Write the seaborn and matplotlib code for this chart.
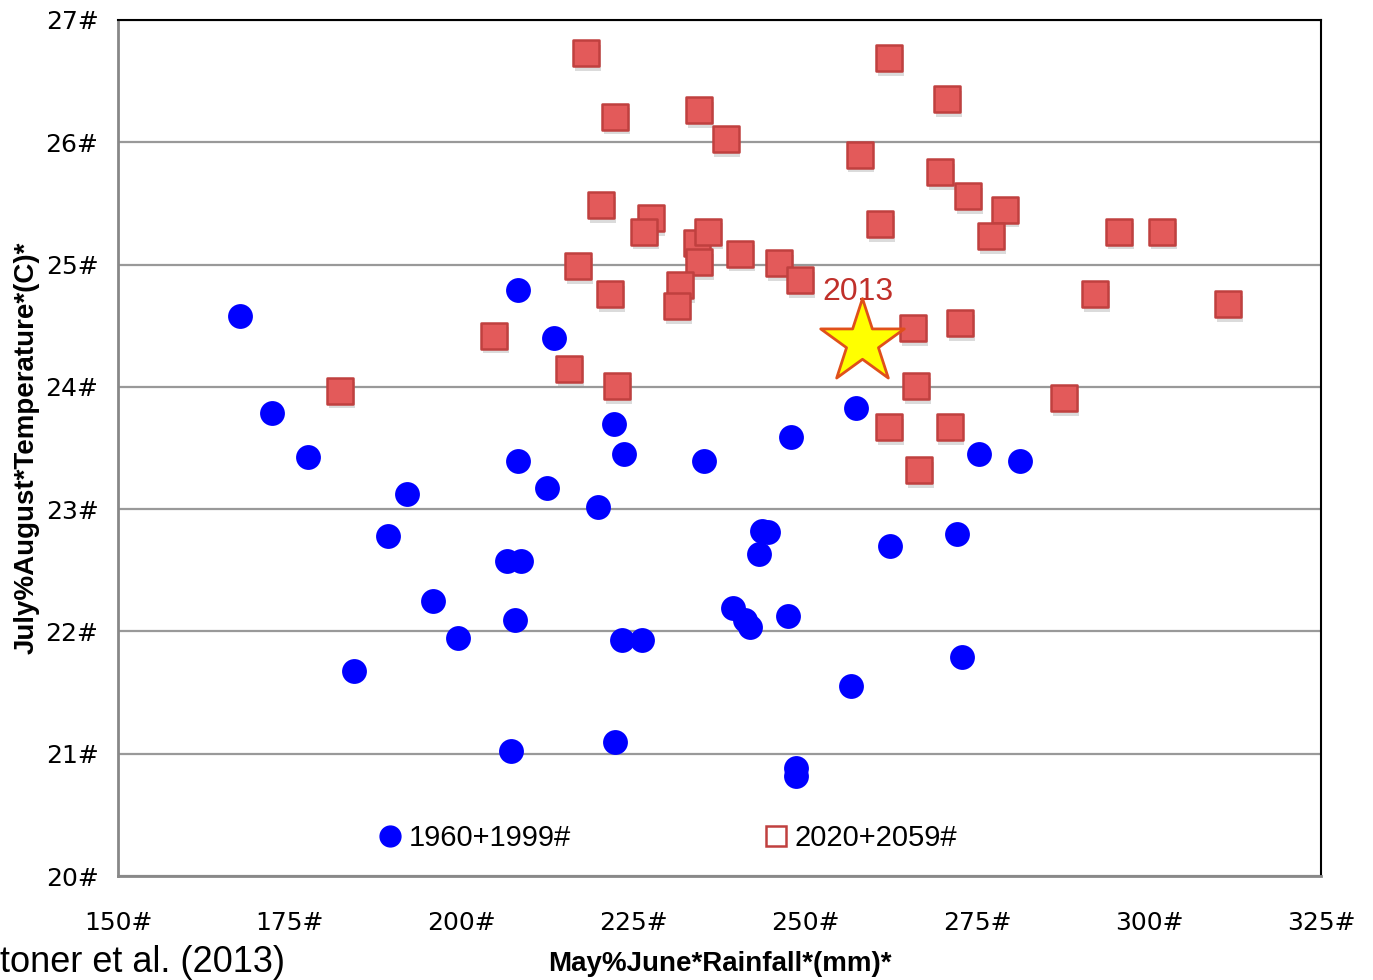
import matplotlib
matplotlib.use("Agg")
from matplotlib import pyplot as plt
from matplotlib.lines import Line2D
import seaborn as sns
import pandas as pd

# 1960-1999 observations (rainfall mm, temperature C)
past_rain = [167.7, 172.4, 177.6, 192.0, 189.3, 195.8, 199.5, 184.3, 208.2, 213.4,
             208.2, 212.4, 219.8, 206.6, 208.6, 207.8, 207.2, 222.2, 223.6, 223.3,
             226.2, 222.3, 235.2, 239.4, 241.2, 241.9, 243.7, 244.6, 243.3, 247.9,
             247.5, 248.6, 248.6, 256.6, 257.4, 262.3, 272.1, 272.8, 275.3, 281.2]
past_temp = [24.58, 23.79, 23.43, 23.12, 22.78, 22.25, 21.95, 21.68, 24.79, 24.40,
             23.39, 23.17, 23.02, 22.58, 22.58, 22.09, 21.02, 23.70, 23.45, 21.93,
             21.93, 21.10, 23.39, 22.19, 22.09, 22.04, 22.82, 22.81, 22.63, 23.59,
             22.13, 20.88, 20.82, 21.55, 23.83, 22.70, 22.80, 21.79, 23.45, 23.39]

# 2020-2059 projections
future_rain = [218.1, 222.3, 234.5, 238.4, 262.2, 270.6, 257.9, 269.6, 273.7, 279.0,
               277.0, 260.9, 220.3, 227.5, 226.5, 234.2, 235.9, 234.5, 240.5, 246.2,
               249.2, 216.9, 221.6, 231.8, 231.3, 204.7, 215.6, 222.6, 182.3, 295.6,
               301.9, 292.1, 311.5, 287.6, 265.7, 272.5, 266.1, 262.2, 271.0, 266.5]
future_temp = [26.73, 26.21, 26.26, 26.03, 26.69, 26.35, 25.90, 25.76, 25.56, 25.45,
               25.23, 25.33, 25.49, 25.38, 25.27, 25.18, 25.27, 25.02, 25.09, 25.01,
               24.87, 24.99, 24.76, 24.83, 24.66, 24.42, 24.15, 24.01, 23.97, 25.27,
               25.27, 24.76, 24.68, 23.91, 24.48, 24.52, 24.01, 23.67, 23.67, 23.32]

year2013_rain = [258.2]
year2013_temp = [24.37]

x_ticks = [150, 175, 200, 225, 250, 275, 300, 325]
y_ticks = [20, 21, 22, 23, 24, 25, 26, 27]

past = pd.DataFrame({"rain": past_rain, "temp": past_temp})
future = pd.DataFrame({"rain": future_rain, "temp": future_temp})
obs2013 = pd.DataFrame({"rain": year2013_rain, "temp": year2013_temp})

sns.set_style("white")
plt.rcParams["font.family"] = ["DejaVu Sans"]
plt.rcParams["text.color"] = "black"

fig = plt.figure(figsize=(13.73, 9.80), dpi=100)
ax = fig.add_axes([0.0859, 0.1061, 0.8762, 0.8735])

# soft drop shadow under the squares
shadow = future.copy()
shadow["rain"] = shadow["rain"] + 0.25
shadow["temp"] = shadow["temp"] - 0.04
sns.scatterplot(data=shadow, x="rain", y="temp", marker="s", s=360,
                color="#999999", alpha=0.35, linewidth=0, ax=ax, zorder=2)

sns.scatterplot(data=past, x="rain", y="temp", marker="o", s=320,
                color="#0000ff", edgecolor="#0000ff", linewidth=0, ax=ax, zorder=3)
sns.scatterplot(data=future, x="rain", y="temp", marker="s", s=340,
                color="#e35a5a", edgecolor="#c0403f", linewidth=1.8, ax=ax, zorder=4)
sns.scatterplot(data=obs2013, x="rain", y="temp", marker="*", s=4000,
                color="#ffff00", edgecolor="#e0501a", linewidth=2, ax=ax, zorder=5)
ax.text(year2013_rain[0] - 0.5, year2013_temp[0] + 0.28, "2013", color="#c0302a",
        fontsize=23, ha="center", va="bottom", family=["Liberation Sans", "DejaVu Sans"])

ax.set_xlim(150, 325)
ax.set_ylim(20, 27)
ax.set_xticks(x_ticks)
ax.set_yticks(y_ticks)
ax.set_xticklabels([f"{t}#" for t in x_ticks], fontsize=18, color="black")
ax.set_yticklabels([f"{t}#" for t in y_ticks], fontsize=18, color="black")
ax.tick_params(axis="x", direction="out", length=9, width=1.5, color="#888888", pad=16)
ax.tick_params(axis="y", direction="out", length=8, width=1.5, color="#888888", pad=6)
ax.grid(axis="y", color="#999999", linewidth=1.6)
ax.set_axisbelow(True)

for side in ["left", "bottom"]:
    ax.spines[side].set_color("#888888")
    ax.spines[side].set_linewidth(2)
for side in ["top", "right"]:
    ax.spines[side].set_color("black")
    ax.spines[side].set_linewidth(1.5)
    ax.spines[side].set_visible(True)

label_font = ["Liberation Sans Narrow", "Liberation Sans", "DejaVu Sans"]
ax.set_xlabel("May%June*Rainfall*(mm)*", fontsize=20, fontweight="bold",
              family=label_font, labelpad=12, color="black")
ax.set_ylabel("July%August*Temperature*(C)*", fontsize=20, fontweight="bold",
              family=label_font, labelpad=4, color="black")

handles = [
    Line2D([], [], marker="o", linestyle="none", markersize=15,
           markerfacecolor="#0000ff", markeredgecolor="#0000ff"),
    Line2D([], [], marker="s", linestyle="none", markersize=14,
           markerfacecolor="white", markeredgecolor="#c0403f", markeredgewidth=1.8),
]
ax.legend(handles, ["1960+1999#", "2020+2059#"], loc="lower left",
          bbox_to_anchor=(0.19, -0.003), ncol=2, frameon=False,
          columnspacing=6.4, handletextpad=0.05, handlelength=1.2,
          prop={"family": label_font, "size": 21})

fig.text(0.0, 0.0, "toner et al. (2013)", fontsize=26, ha="left", va="bottom",
         family=["Liberation Sans", "DejaVu Sans"])

fig.savefig("out.png", dpi=100)
plt.close(fig)
